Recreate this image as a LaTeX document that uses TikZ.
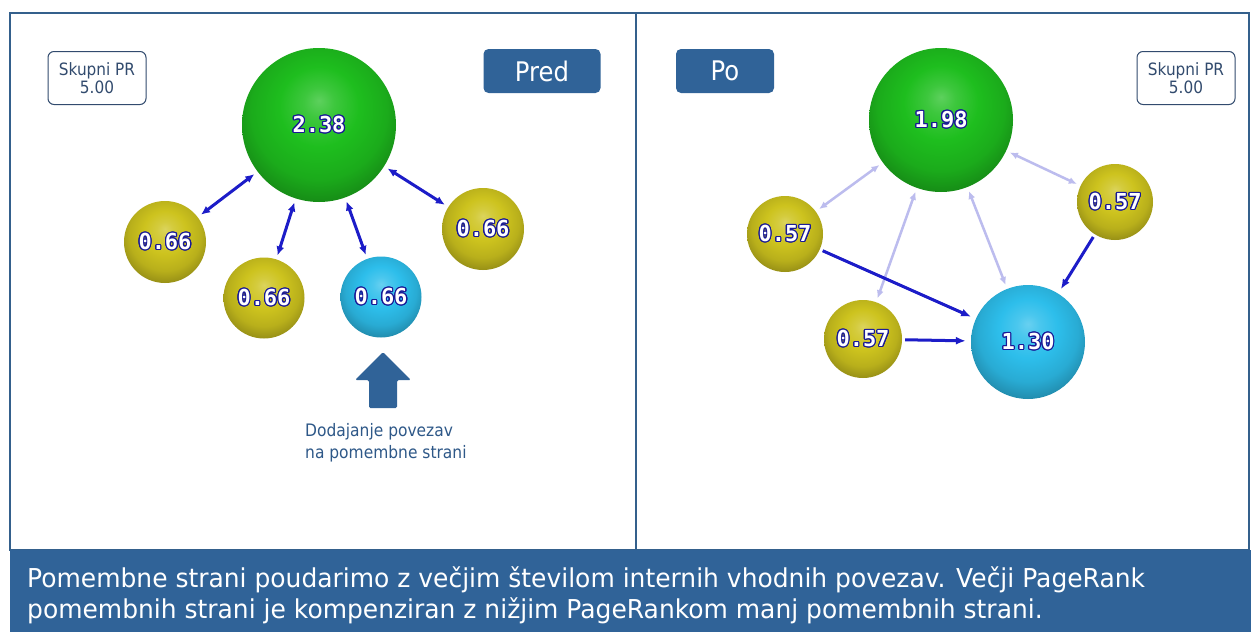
\documentclass[tikz,border=0pt]{standalone}
\usepackage{fontspec}
\setmainfont{DejaVu Sans}[FakeStretch=0.9]
\newfontfamily\numfont{DejaVu Sans Mono}
\newfontfamily\bandfont{DejaVu Sans}[FakeStretch=0.96]
\usepackage{contour}
\usetikzlibrary{arrows.meta}

\definecolor{boxblue}{RGB}{48,99,152}
\definecolor{framecol}{RGB}{52,96,140}
\definecolor{boxtext}{RGB}{50,75,110}
\definecolor{captext}{RGB}{46,88,136}
\definecolor{linkblue}{RGB}{28,28,200}
\definecolor{linklight}{RGB}{188,188,238}
\definecolor{numblue}{RGB}{24,24,150}
\definecolor{pgreen}{RGB}{30,190,30}
\definecolor{pyellow}{RGB}{205,195,30}
\definecolor{pcyan}{RGB}{45,190,235}
\colorlet{sph}{pgreen}

% sphere look: light top, darker rim at the bottom
\pgfdeclareradialshading[sph]{sphere}{\pgfpoint{0bp}{8bp}}{%
  color(0bp)=(sph!72!white); color(5bp)=(sph!86!white);
  color(13bp)=(sph); color(22bp)=(sph!90!black);
  color(30bp)=(sph!70!black); color(36bp)=(sph!62!black);
  color(50bp)=(sph!62!black)}

\contourlength{1.1pt}
\newcommand{\prval}[1]{\contour{numblue}{#1}}

\tikzset{
  sphcol/.code={\colorlet{sph}{#1}},
  page/.style={circle, inner sep=0pt, shading=sphere, sphcol=#1,
    text=white, font=\numfont\bfseries\fontsize{22}{22}\selectfont},
  totalbox/.style={draw=boxtext, line width=1pt, rounded corners=6pt,
    minimum width=98pt, minimum height=53pt, align=center, inner sep=0pt,
    text=boxtext, font=\fontsize{17}{18}\selectfont},
  tagbox/.style={fill=boxblue, rounded corners=5pt, minimum height=44pt,
    inner sep=0pt, text=white, font=\fontsize{27}{27}\selectfont},
  twoway/.style={draw=linkblue, line width=3pt,
    {Latex[length=9pt,width=8pt]}-{Latex[length=9pt,width=8pt]},
    shorten <=4pt, shorten >=4pt},
  oneway/.style={draw=linkblue, line width=3pt,
    -{Latex[length=10pt,width=8pt]}, shorten <=3pt, shorten >=5pt},
  faint/.style={draw=linklight, line width=2.5pt,
    {Latex[length=8pt,width=7pt]}-{Latex[length=8pt,width=7pt]},
    shorten <=4pt, shorten >=4pt},
  captionline/.style={anchor=base west, inner sep=0pt, text=captext,
    font=\fontsize{17.2}{22}\selectfont},
  bandline/.style={anchor=base west, inner sep=0pt, text=white,
    font=\bandfont\fontsize{26}{30}\selectfont}
}

\begin{document}
\begin{tikzpicture}[x=1pt, y=-1pt]
  \useasboundingbox (0,0) rectangle (1251,632);
  \fill[white] (0,0) rectangle (1251,632);

  % panel frame, divider and caption band
  \draw[framecol, line width=1.5pt] (10,13) rectangle (1249,550);
  \draw[framecol, line width=2.2pt] (636,13) -- (636,550);
  \fill[boxblue] (10,550) rectangle (1251,632);

  % ---- left panel: before ----
  \node[totalbox] (sumL) at (97,78) {Skupni PR\\5.00};
  \node[tagbox, minimum width=117pt] (pred) at (542,71) {Pred};

  \node[page=pgreen,  minimum size=154pt] (lA) at (319,125) {\prval{2.38}};
  \node[page=pyellow, minimum size=82pt]  (lB) at (165,242) {\prval{0.66}};
  \node[page=pyellow, minimum size=81pt]  (lC) at (264,298) {\prval{0.66}};
  \node[page=pcyan,   minimum size=81pt]  (lD) at (381,297) {\prval{0.66}};
  \node[page=pyellow, minimum size=82pt]  (lE) at (483,229) {\prval{0.66}};

  \draw[twoway] (lA) -- (lB);
  \draw[twoway] (lA) -- (lC);
  \draw[twoway] (lA) -- (lD);
  \draw[twoway] (lA) -- (lE);

  % big arrow pointing at the important page
  \fill[boxblue, rounded corners=1.5pt] (383,352) -- (411,380) -- (397,380)
    -- (397,408) -- (369,408) -- (369,380) -- (355,380) -- cycle;
  \node[captionline] (cap1) at (305,436) {Dodajanje povezav};
  \node[captionline] (cap2) at (305,458) {na pomembne strani};

  % ---- right panel: after ----
  \node[tagbox, minimum width=98pt] (po) at (725,71) {Po};
  \node[totalbox] (sumR) at (1186,78) {Skupni PR\\5.00};

  \node[page=pgreen,  minimum size=144pt] (rA) at (941,120) {\prval{1.98}};
  \node[page=pyellow, minimum size=76pt]  (rB) at (785,234) {\prval{0.57}};
  \node[page=pyellow, minimum size=76pt]  (rC) at (1115,202) {\prval{0.57}};
  \node[page=pyellow, minimum size=78pt]  (rD) at (863,339) {\prval{0.57}};
  \node[page=pcyan,   minimum size=114pt] (rE) at (1028,342) {\prval{1.30}};

  \draw[faint] (rA) -- (rB);
  \draw[faint] (rA) -- (rC);
  \draw[faint] (rA) -- (rD);
  \draw[faint] (rA) -- (rE);
  \draw[oneway] (rB) -- (rE);
  \draw[oneway] (rC) -- (rE);
  \draw[oneway] (rD) -- (rE);

  % caption text in the band
  \node[bandline] (band1) at (27,587)
    {Pomembne strani poudarimo z večjim številom internih vhodnih povezav. Večji PageRank};
  \node[bandline] (band2) at (27,618)
    {pomembnih strani je kompenziran z nižjim PageRankom manj pomembnih strani.};
\end{tikzpicture}
\end{document}
